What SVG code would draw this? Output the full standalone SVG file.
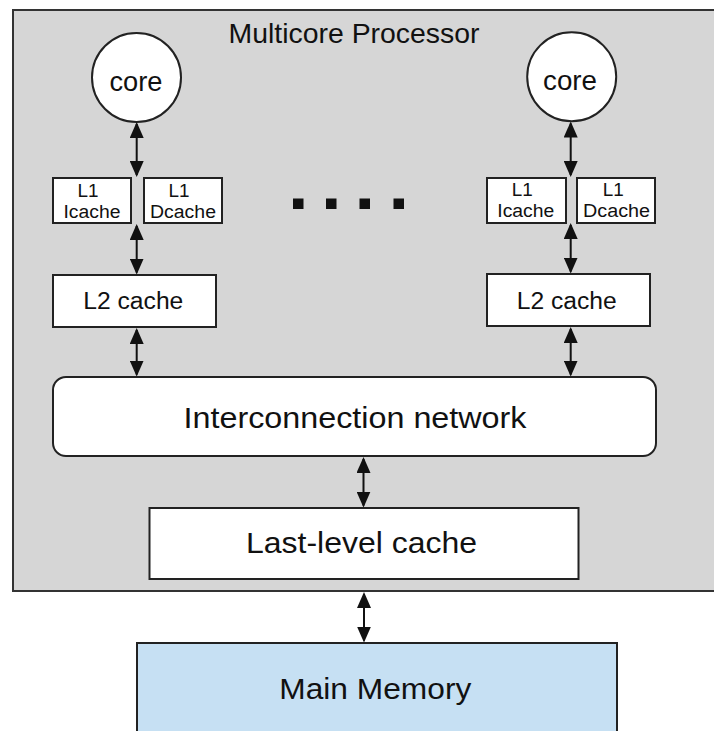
<svg xmlns="http://www.w3.org/2000/svg" width="714" height="731" viewBox="0 0 714 731">
<style>
.box{fill:#fff;stroke:#222;stroke-width:2}
.t{font-family:"Liberation Sans",Arial,sans-serif;fill:#111}
.conn line{stroke:#111;stroke-width:2}
</style>
<defs>
<marker id="ah" viewBox="0 0 16 14" refX="14" refY="7" markerWidth="16" markerHeight="14" markerUnits="userSpaceOnUse" orient="auto-start-reverse">
<path d="M0,0 L16,7 L0,14 Z" fill="#111"/>
</marker>
</defs>
<rect width="714" height="731" fill="#fff"/>
<g id="processor">
<rect x="13" y="10" width="720" height="581" fill="#d6d6d6" stroke="#333" stroke-width="2"/>
<text class="t" x="228.5" y="43" font-size="28" textLength="251" lengthAdjust="spacingAndGlyphs">Multicore Processor</text>
</g>
<g id="core-left">
<circle class="box" cx="136.5" cy="77.5" r="44.5"/>
<text class="t" x="109.5" y="91" font-size="28" textLength="53" lengthAdjust="spacingAndGlyphs">core</text>
</g>
<g id="core-right">
<circle class="box" cx="571.7" cy="76.8" r="44.5"/>
<text class="t" x="543" y="90" font-size="28" textLength="54" lengthAdjust="spacingAndGlyphs">core</text>
</g>
<g id="l1i-left">
<rect class="box" x="53" y="178" width="78" height="45"/>
<text class="t" x="77.5" y="196.5" font-size="18" textLength="21" lengthAdjust="spacingAndGlyphs">L1</text>
<text class="t" x="63.5" y="218" font-size="18" textLength="57" lengthAdjust="spacingAndGlyphs">Icache</text>
</g>
<g id="l1d-left">
<rect class="box" x="144" y="178" width="78" height="45"/>
<text class="t" x="168.5" y="196.5" font-size="18" textLength="21" lengthAdjust="spacingAndGlyphs">L1</text>
<text class="t" x="150" y="218" font-size="18" textLength="66" lengthAdjust="spacingAndGlyphs">Dcache</text>
</g>
<g id="l1i-right">
<rect class="box" x="487" y="178" width="79" height="45"/>
<text class="t" x="511.7" y="195.5" font-size="18" textLength="21" lengthAdjust="spacingAndGlyphs">L1</text>
<text class="t" x="497.3" y="217.3" font-size="18" textLength="57" lengthAdjust="spacingAndGlyphs">Icache</text>
</g>
<g id="l1d-right">
<rect class="box" x="577" y="178" width="78" height="45"/>
<text class="t" x="602.7" y="195.5" font-size="18" textLength="21" lengthAdjust="spacingAndGlyphs">L1</text>
<text class="t" x="583" y="217.3" font-size="18" textLength="67" lengthAdjust="spacingAndGlyphs">Dcache</text>
</g>
<g id="l2-left">
<rect class="box" x="53" y="275" width="163" height="52"/>
<text class="t" x="83.3" y="309" font-size="23" textLength="100" lengthAdjust="spacingAndGlyphs">L2 cache</text>
</g>
<g id="l2-right">
<rect class="box" x="487" y="274" width="163" height="52"/>
<text class="t" x="516.7" y="308.5" font-size="23" textLength="100" lengthAdjust="spacingAndGlyphs">L2 cache</text>
</g>
<g id="dots" fill="#111">
<rect x="293" y="198.5" width="10.5" height="10.5"/>
<rect x="326" y="198.5" width="10.5" height="10.5"/>
<rect x="359.5" y="198.5" width="10.5" height="10.5"/>
<rect x="393.5" y="198.5" width="10.5" height="10.5"/>
</g>
<g id="interconnect">
<rect class="box" x="53" y="377" width="603" height="79" rx="13" ry="13"/>
<text class="t" x="183.5" y="428" font-size="30" textLength="343" lengthAdjust="spacingAndGlyphs">Interconnection  network</text>
</g>
<g id="llc">
<rect class="box" x="149.5" y="508" width="429" height="71"/>
<text class="t" x="246" y="553" font-size="29" textLength="231" lengthAdjust="spacingAndGlyphs">Last-level cache</text>
</g>
<g id="memory">
<rect x="137" y="643" width="480" height="100" fill="#c6e0f3" stroke="#222" stroke-width="2"/>
<text class="t" x="279.3" y="699.3" font-size="29" textLength="192" lengthAdjust="spacingAndGlyphs">Main Memory</text>
</g>
<g id="connectors" class="conn">
<line x1="136.7" y1="124" x2="136.7" y2="175" marker-start="url(#ah)" marker-end="url(#ah)"/>
<line x1="136.7" y1="226" x2="136.7" y2="272.5" marker-start="url(#ah)" marker-end="url(#ah)"/>
<line x1="136.7" y1="330" x2="136.7" y2="374.5" marker-start="url(#ah)" marker-end="url(#ah)"/>
<line x1="570.7" y1="123.5" x2="570.7" y2="175" marker-start="url(#ah)" marker-end="url(#ah)"/>
<line x1="570.7" y1="225" x2="570.7" y2="271.5" marker-start="url(#ah)" marker-end="url(#ah)"/>
<line x1="570.7" y1="329" x2="570.7" y2="374.5" marker-start="url(#ah)" marker-end="url(#ah)"/>
<line x1="363.5" y1="459" x2="363.5" y2="505.5" marker-start="url(#ah)" marker-end="url(#ah)"/>
<line x1="364" y1="594" x2="364" y2="640.5" marker-start="url(#ah)" marker-end="url(#ah)"/>
</g>
</svg>
